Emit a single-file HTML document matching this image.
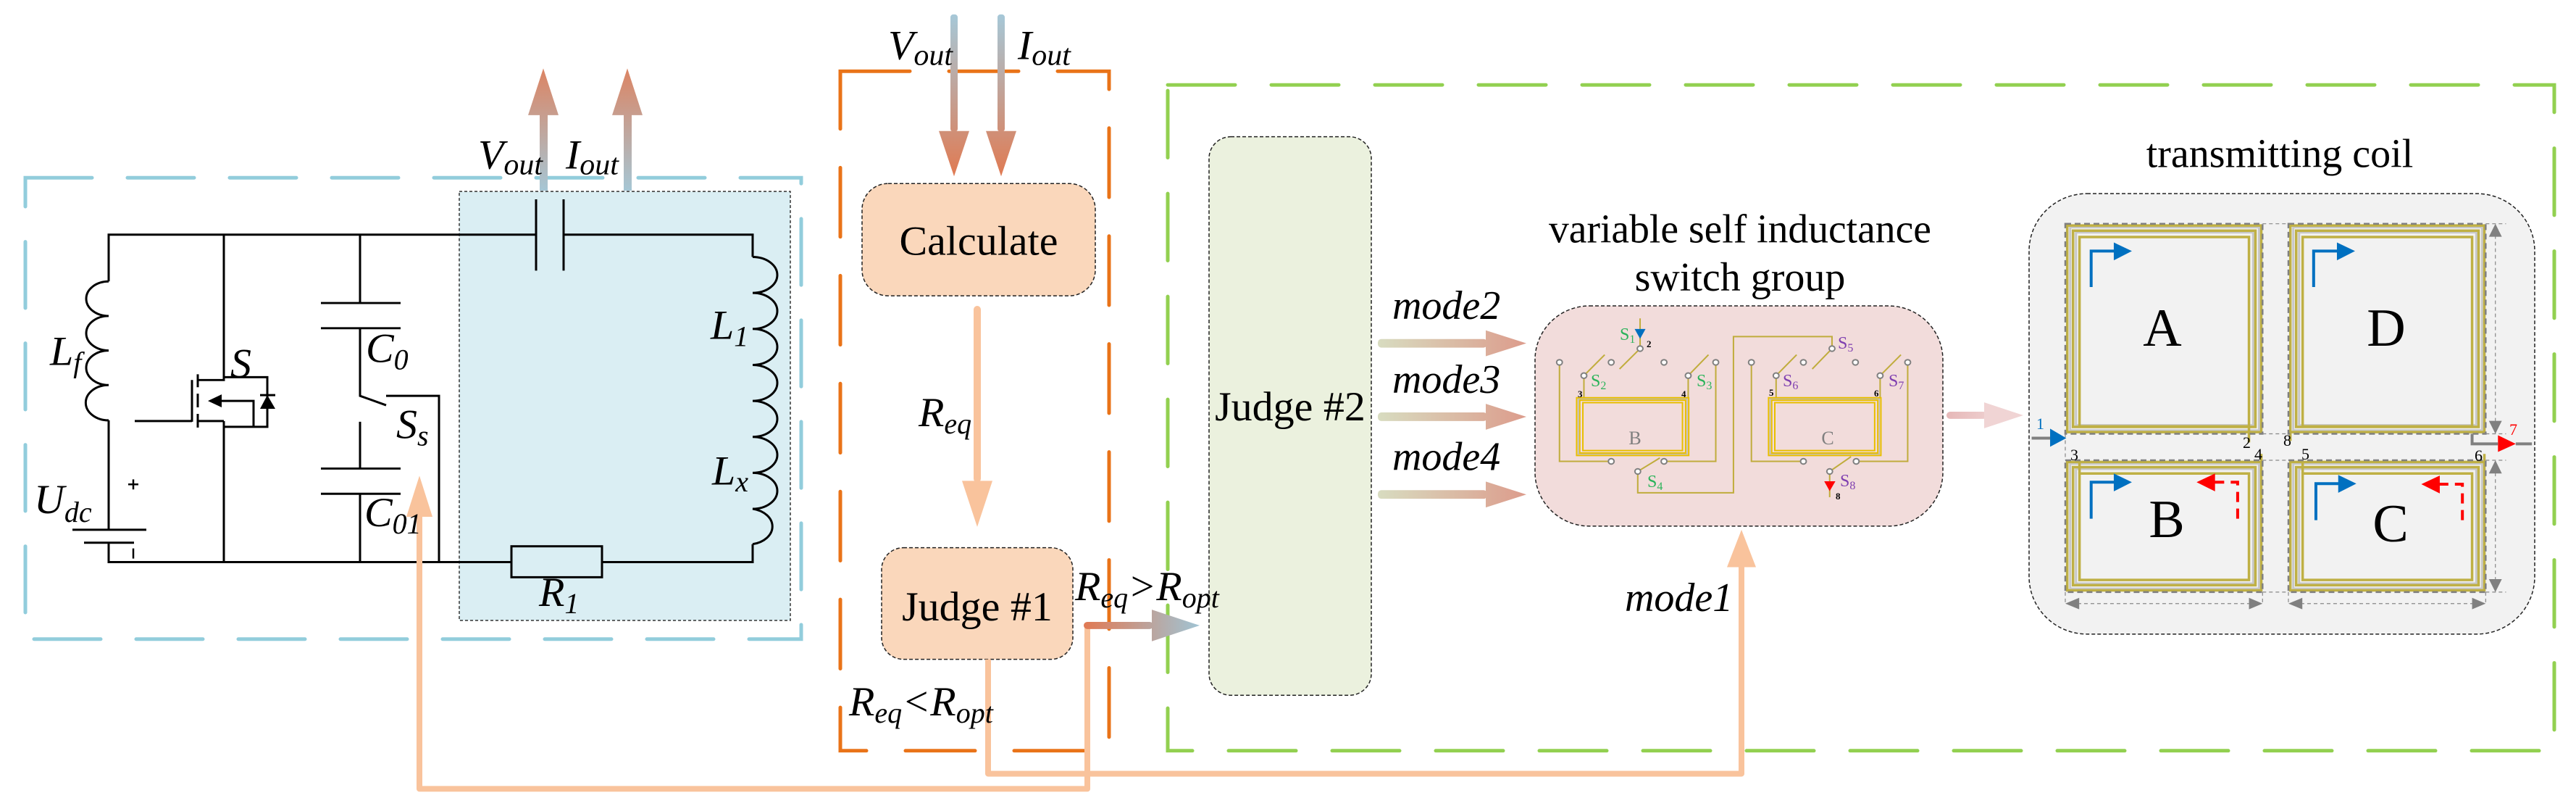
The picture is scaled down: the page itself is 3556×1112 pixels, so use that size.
<!DOCTYPE html>
<html><head><meta charset="utf-8"><style>
html,body{margin:0;padding:0;background:#fff;}
svg{display:block;font-family:"Liberation Serif","Times New Roman",Times,"DejaVu Serif",serif;}
svg text{font-family:"Liberation Serif","Times New Roman",Times,"DejaVu Serif",serif;}
.it{font-style:italic;}
</style></head><body>
<svg width="3556" height="1112" viewBox="0 0 3556 1112" xmlns="http://www.w3.org/2000/svg">
<defs>
<linearGradient id="gUp" x1="0" y1="264" x2="0" y2="95" gradientUnits="userSpaceOnUse"><stop offset="0" stop-color="#a6c6d4"/><stop offset="1" stop-color="#dc8463"/></linearGradient>
<linearGradient id="gDn" x1="0" y1="20" x2="0" y2="245" gradientUnits="userSpaceOnUse"><stop offset="0" stop-color="#a6c8d8"/><stop offset="1" stop-color="#e07a52"/></linearGradient>
<linearGradient id="gJ1" x1="1498" y1="0" x2="1656" y2="0" gradientUnits="userSpaceOnUse"><stop offset="0" stop-color="#e07a55"/><stop offset="1" stop-color="#a0c4d4"/></linearGradient>
<linearGradient id="gM" x1="1902" y1="0" x2="2107" y2="0" gradientUnits="userSpaceOnUse"><stop offset="0" stop-color="#d8dcc0"/><stop offset="1" stop-color="#dc9c8c"/></linearGradient>
<linearGradient id="gC" x1="2687" y1="0" x2="2793" y2="0" gradientUnits="userSpaceOnUse"><stop offset="0" stop-color="#e6b8b8"/><stop offset="1" stop-color="#f4e0e0"/></linearGradient>
</defs>

<g transform="scale(1,0.993)">
<rect x="35" y="247" width="1071" height="641" fill="none" stroke="#92cddc" stroke-width="5" stroke-dasharray="92 49" stroke-linecap="round"/>
<rect x="634" y="266" width="457" height="596" fill="#daeef3" stroke="#333" stroke-width="1.5" stroke-dasharray="4 3"/>

<g fill="none" stroke="#000" stroke-width="3">
<path d="M150,584 V736 M150,754 V781 H1039 V756"/>
<path d="M150,391 V326 H740 M778,326 H1039 V357"/>
<path d="M150,391 A31,24 0 0 0 150,439 A31,24 0 0 0 150,487 A31,24 0 0 0 150,535 A31,24 0 0 0 150,584"/>
<path d="M1039,357 A34,25 0 0 1 1039,407 A34,25 0 0 1 1039,457 A34,25 0 0 1 1039,507 A34,25 0 0 1 1039,557 A34,25 0 0 1 1039,607 A34,25 0 0 1 1039,657 A34,25 0 0 1 1039,707 A34,25 0 0 1 1039,756"/>
<path d="M740,277 V376 M778,277 V376"/>
<path d="M100,736 H202 M116,754 H185"/>
<path d="M177,673 H191 M184,666 V680 M184,762 V776" stroke-width="2.5"/>
<path d="M309,326 V528 H273 M309,524 H369 V593 H309 M309,585 H273 M309,585 V781"/>
<path d="M265,528 V586 M186,585 H265"/>
<path d="M273,520 V538 M273,547 V566 M273,575 V594"/>
<path d="M300,557 H350 V593"/>
<path d="M359,549 H380"/>
<path d="M497,326 V421 M443,421 H553 M443,456 H553 M497,456 V550 L533,563"/>
<path d="M533,550 H606 V781"/>
<path d="M497,586 V651 M443,651 H553 M443,686 H553 M497,686 V781"/>
</g>
<polygon points="287,557 306,548 306,566" fill="#000"/>
<polygon points="369,549 359,568 380,568" fill="#000"/>
<rect x="706" y="759" width="125" height="43" fill="#daeef3" stroke="#000" stroke-width="3"/>

<rect x="745" y="159" width="11" height="106" fill="url(#gUp)"/>
<polygon points="729,160 771,160 750,95" fill="url(#gUp)"/>
<rect x="861" y="159" width="11" height="106" fill="url(#gUp)"/>
<polygon points="845,160 887,160 866,95" fill="url(#gUp)"/>

<rect x="1160" y="99" width="371" height="944" fill="none" stroke="#e97318" stroke-width="5" stroke-dasharray="96 54" stroke-linecap="round"/>
<rect x="1612" y="118" width="1914" height="925" fill="none" stroke="#92d050" stroke-width="5" stroke-dasharray="93 50" stroke-linecap="round"/>

<rect x="1312" y="20" width="10" height="163" fill="url(#gDn)" rx="4"/>
<polygon points="1296,182 1338,182 1317,245" fill="url(#gDn)"/>
<rect x="1377" y="20" width="10" height="163" fill="url(#gDn)" rx="4"/>
<polygon points="1361,182 1403,182 1382,245" fill="url(#gDn)"/>

<rect x="1190" y="255" width="322" height="156" rx="36" fill="#fad7bb" stroke="#222" stroke-width="1.5" stroke-dasharray="5 3"/>
<text x="1351" y="354" font-size="58" text-anchor="middle">Calculate</text>
<rect x="1344" y="425" width="10" height="245" fill="#f9c39c" rx="5"/>
<polygon points="1328,668 1370,668 1349,732" fill="#f9c39c"/>
<rect x="1217" y="761" width="264" height="155" rx="30" fill="#fad7bb" stroke="#222" stroke-width="1.5" stroke-dasharray="5 3"/>
<text x="1349" y="862" font-size="58" text-anchor="middle">Judge #1</text>

<g fill="none" stroke="#f9c39c" stroke-width="8" stroke-linejoin="round">
<path d="M1501,869 V1096 H579 V712"/>
<path d="M1364,916 V1075 H2404 V782"/>
</g>
<polygon points="561,718 597,718 579,661" fill="#f9c39c"/>
<polygon points="2384,788 2424,788 2404,736" fill="#f9c39c"/>

<rect x="1496" y="864" width="96" height="10" rx="5" fill="url(#gJ1)"/>
<polygon points="1590,847 1590,891 1656,869" fill="url(#gJ1)"/>

<rect x="1669" y="190" width="224" height="776" rx="30" fill="#ebf1de" stroke="#222" stroke-width="1.5" stroke-dasharray="5 3"/>
<text x="1781" y="584" font-size="58" text-anchor="middle">Judge #2</text>

<g fill="url(#gM)">
<rect x="1902" y="471" width="151" height="12" rx="5"/><polygon points="2051,459 2051,495 2107,477"/>
<rect x="1902" y="573" width="151" height="12" rx="5"/><polygon points="2051,561 2051,597 2107,579"/>
<rect x="1902" y="681" width="151" height="12" rx="5"/><polygon points="2051,669 2051,705 2107,687"/>
</g>

<rect x="2119" y="425" width="563" height="306" rx="75" fill="#f2dcdb" stroke="#222" stroke-width="1.5" stroke-dasharray="5 3"/>
<text x="2402" y="337" font-size="56" text-anchor="middle" textLength="528" lengthAdjust="spacingAndGlyphs">variable self inductance</text>
<text x="2402" y="404" font-size="56" text-anchor="middle">switch group</text>

<rect x="2687" y="572" width="56" height="10" rx="5" fill="url(#gC)"/>
<polygon points="2739,559 2739,595 2793,577" fill="#f0d4d4"/>

<rect x="2801" y="269" width="698" height="612" rx="80" fill="#f2f2f2" stroke="#222" stroke-width="1.5" stroke-dasharray="5 3"/>
<text x="3147" y="232" font-size="56" text-anchor="middle">transmitting coil</text>

<g class="it" font-size="58" font-style="italic">
<text x="69" y="507">L<tspan font-size="40" dy="10">f</tspan></text>
<text x="318" y="524">S</text>
<text x="505" y="503">C<tspan font-size="40" dy="10">0</tspan></text>
<text x="547" y="609">S<tspan font-size="40" dy="10">s</tspan></text>
<text x="503" y="731">C<tspan font-size="40" dy="10">01</tspan></text>
<text x="47" y="713">U<tspan font-size="40" dy="12">dc</tspan></text>
<text x="981" y="471">L<tspan font-size="40" dy="10">1</tspan></text>
<text x="983" y="673">L<tspan font-size="40" dy="10">x</tspan></text>
<text x="744" y="842">R<tspan font-size="40" dy="10">1</tspan></text>
<text x="660" y="234">V<tspan font-size="42" dy="8">out</tspan></text>
<text x="781" y="234">I<tspan font-size="42" dy="8">out</tspan></text>
<text x="1226" y="82">V<tspan font-size="42" dy="8">out</tspan></text>
<text x="1405" y="82">I<tspan font-size="42" dy="8">out</tspan></text>
<text x="1268" y="592">R<tspan font-size="40" dy="10">eq</tspan></text>
<text x="1484" y="834">R<tspan font-size="40" dy="10">eq</tspan><tspan dy="-10">&gt;R</tspan><tspan font-size="40" dy="10">opt</tspan></text>
<text x="1172" y="994">R<tspan font-size="40" dy="10">eq</tspan><tspan dy="-10">&lt;R</tspan><tspan font-size="40" dy="10">opt</tspan></text>
<text x="1922" y="443" font-size="56">mode2</text>
<text x="1922" y="546" font-size="56">mode3</text>
<text x="1922" y="653" font-size="56">mode4</text>
<text x="2243" y="849" font-size="56">mode1</text>
</g>
</g>

<g transform="translate(2119,425) scale(0.359,0.339)" fill="none">
<g stroke="#c0ac3c" stroke-width="2">
<path vector-effect="non-scaling-stroke" d="M404,42 V165 M404,165 L325,248 M188,275 L268,190 M589,275 L667,190 M1142,165 L1066,248 M927,275 L1006,190 M1327,275 L1407,190 M395,665 L480,610 M1133,665 L1215,605"/>
<path vector-effect="non-scaling-stroke" d="M94,221 V624 H293 M496,624 H695 V221 M188,275 V365 M589,275 V365 M395,665 V752 H763 V116 H1142 V165 M832,221 V624 H1032 M1235,624 H1433 V221 M927,275 V365 M1327,275 V365 M1133,665 V770"/>
</g>
<g stroke="#bbb" stroke-width="1.5">
<rect vector-effect="non-scaling-stroke" x="166" y="370" width="419" height="224"/>
<rect vector-effect="non-scaling-stroke" x="904" y="370" width="420" height="224"/>
</g>
<g stroke="#e8be00" stroke-width="2">
<rect vector-effect="non-scaling-stroke" x="160" y="365" width="431" height="235"/>
<rect vector-effect="non-scaling-stroke" x="172" y="375" width="407" height="215"/>
<rect vector-effect="non-scaling-stroke" x="184" y="385" width="383" height="195"/>
<rect vector-effect="non-scaling-stroke" x="898" y="365" width="432" height="235"/>
<rect vector-effect="non-scaling-stroke" x="910" y="375" width="408" height="215"/>
<rect vector-effect="non-scaling-stroke" x="922" y="385" width="384" height="195"/>
</g>
<g fill="#fff" stroke="#808080" stroke-width="2">
<circle vector-effect="non-scaling-stroke" cx="404" cy="165" r="11"/><circle vector-effect="non-scaling-stroke" cx="94" cy="221" r="11"/><circle vector-effect="non-scaling-stroke" cx="293" cy="221" r="11"/><circle vector-effect="non-scaling-stroke" cx="496" cy="221" r="11"/><circle vector-effect="non-scaling-stroke" cx="695" cy="221" r="11"/><circle vector-effect="non-scaling-stroke" cx="188" cy="275" r="11"/><circle vector-effect="non-scaling-stroke" cx="589" cy="275" r="11"/><circle vector-effect="non-scaling-stroke" cx="1142" cy="165" r="11"/><circle vector-effect="non-scaling-stroke" cx="832" cy="221" r="11"/><circle vector-effect="non-scaling-stroke" cx="1032" cy="221" r="11"/><circle vector-effect="non-scaling-stroke" cx="1232" cy="221" r="11"/><circle vector-effect="non-scaling-stroke" cx="1433" cy="221" r="11"/><circle vector-effect="non-scaling-stroke" cx="927" cy="275" r="11"/><circle vector-effect="non-scaling-stroke" cx="1327" cy="275" r="11"/><circle vector-effect="non-scaling-stroke" cx="293" cy="624" r="11"/><circle vector-effect="non-scaling-stroke" cx="496" cy="624" r="11"/><circle vector-effect="non-scaling-stroke" cx="395" cy="665" r="11"/><circle vector-effect="non-scaling-stroke" cx="1032" cy="624" r="11"/><circle vector-effect="non-scaling-stroke" cx="1235" cy="624" r="11"/><circle vector-effect="non-scaling-stroke" cx="1133" cy="665" r="11"/>
</g>
<polygon points="383,85 425,85 404,125" fill="#0070c0"/>
<polygon points="1112,705 1155,705 1133,745" fill="#ff0000"/>
</g>
<g font-size="24">
<g fill="#2bb35a"><text x="2236" y="469">S<tspan font-size="16" dy="4">1</tspan></text><text x="2196" y="533">S<tspan font-size="16" dy="4">2</tspan></text><text x="2342" y="533">S<tspan font-size="16" dy="4">3</tspan></text><text x="2274" y="672">S<tspan font-size="16" dy="4">4</tspan></text></g>
<g fill="#7f3fb0"><text x="2537" y="481">S<tspan font-size="16" dy="4">5</tspan></text><text x="2461" y="533">S<tspan font-size="16" dy="4">6</tspan></text><text x="2607" y="533">S<tspan font-size="16" dy="4">7</tspan></text><text x="2540" y="671">S<tspan font-size="16" dy="4">8</tspan></text></g>
<g font-weight="bold" font-size="13" fill="#000"><text x="2273" y="479">2</text><text x="2178" y="548">3</text><text x="2321" y="548">4</text><text x="2442" y="546">5</text><text x="2587" y="547">6</text><text x="2534" y="689">8</text></g>
<text x="2257" y="613" font-size="26" fill="#808080" text-anchor="middle">B</text>
<text x="2523" y="613" font-size="26" fill="#808080" text-anchor="middle">C</text>
</g>

<g transform="translate(2801,269) scale(0.4464,0.397)" fill="none">
<g stroke="#c8c8c8" stroke-width="3">
<rect vector-effect="non-scaling-stroke" x="127" y="112" width="584" height="706"/><rect vector-effect="non-scaling-stroke" x="145" y="130" width="548" height="670"/>
<rect vector-effect="non-scaling-stroke" x="817" y="112" width="584" height="706"/><rect vector-effect="non-scaling-stroke" x="835" y="130" width="548" height="670"/>
<rect vector-effect="non-scaling-stroke" x="127" y="934" width="584" height="434"/><rect vector-effect="non-scaling-stroke" x="145" y="952" width="548" height="398"/>
<rect vector-effect="non-scaling-stroke" x="817" y="934" width="584" height="434"/><rect vector-effect="non-scaling-stroke" x="835" y="952" width="548" height="398"/>
</g>
<g stroke="#bfb044" stroke-width="3.5">
<rect vector-effect="non-scaling-stroke" x="118" y="106" width="600" height="718"/><rect vector-effect="non-scaling-stroke" x="136" y="124" width="564" height="682"/><rect vector-effect="non-scaling-stroke" x="156" y="146" width="524" height="658"/>
<rect vector-effect="non-scaling-stroke" x="808" y="106" width="600" height="718"/><rect vector-effect="non-scaling-stroke" x="826" y="124" width="564" height="682"/><rect vector-effect="non-scaling-stroke" x="846" y="146" width="524" height="658"/>
<rect vector-effect="non-scaling-stroke" x="118" y="928" width="600" height="446"/><rect vector-effect="non-scaling-stroke" x="136" y="946" width="564" height="410"/><rect vector-effect="non-scaling-stroke" x="156" y="968" width="524" height="370"/>
<rect vector-effect="non-scaling-stroke" x="808" y="928" width="600" height="446"/><rect vector-effect="non-scaling-stroke" x="826" y="946" width="564" height="410"/><rect vector-effect="non-scaling-stroke" x="846" y="968" width="524" height="370"/>
<path vector-effect="non-scaling-stroke" d="M680,804 V860 M156,968 V925 M846,968 V925 M718,928 V900 M1408,928 V900 M808,824 V855"/>
</g>
<g stroke="#808080" stroke-width="2.5" stroke-dasharray="8 5">
<rect vector-effect="non-scaling-stroke" x="112" y="100" width="610" height="730"/>
<rect vector-effect="non-scaling-stroke" x="802" y="100" width="610" height="730"/>
<rect vector-effect="non-scaling-stroke" x="112" y="922" width="610" height="458"/>
<rect vector-effect="non-scaling-stroke" x="802" y="922" width="610" height="458"/>
</g>
<g stroke="#888" stroke-width="1.2" stroke-dasharray="5 4">
<path vector-effect="non-scaling-stroke" d="M722,100 H802 M722,830 H802 M722,922 H802 M722,1380 H802 M1412,100 H1475 M1412,830 H1475 M1412,922 H1475 M1412,1380 H1475 M112,830 V922 M1442,140 V790 M1442,965 V1340 M150,1420 H690 M840,1420 H1380 M112,1380 V1425 M722,1380 V1425 M802,1380 V1425 M1412,1380 V1425"/>
</g>
<g fill="#808080">
<polygon points="1422,145 1462,145 1442,100"/><polygon points="1422,785 1462,785 1442,830"/>
<polygon points="1422,968 1462,968 1442,922"/><polygon points="1422,1335 1462,1335 1442,1380"/>
<polygon points="155,1400 155,1440 112,1420"/><polygon points="680,1400 680,1440 722,1420"/>
<polygon points="845,1400 845,1440 802,1420"/><polygon points="1370,1400 1370,1440 1412,1420"/>
</g>
<g stroke="#0070c0" stroke-width="4">
<path vector-effect="non-scaling-stroke" d="M192,320 V195 H265 M880,320 V195 H955 M192,1125 V998 H265 M887,1130 V1003 H958"/>
</g>
<g fill="#0070c0">
<polygon points="262,165 262,227 318,195"/><polygon points="952,165 952,227 1008,195"/>
<polygon points="262,968 262,1030 318,998"/><polygon points="956,973 956,1035 1012,1003"/>
<polygon points="65,812 65,875 115,845"/>
</g>
<g stroke="#ff0000" stroke-width="4" stroke-dasharray="14 9">
<path vector-effect="non-scaling-stroke" d="M645,1125 V998 H572 M1340,1130 V1005 H1268"/>
</g>
<g fill="#ff0000">
<polygon points="575,968 575,1030 518,998"/><polygon points="1270,975 1270,1037 1213,1005"/>
<polygon points="1450,835 1450,893 1505,865"/>
</g>
<g stroke="#808080" stroke-width="4">
<path vector-effect="non-scaling-stroke" d="M8,845 H65 M1370,830 V865 H1450 M1505,865 H1555"/>
</g>
</g>
<g font-size="74" text-anchor="middle">
<text x="2985" y="477">A</text><text x="3294" y="477">D</text>
<text x="2991" y="741">B</text><text x="3300" y="747">C</text>
</g>
<g font-size="22">
<text x="2811" y="592" fill="#0070c0">1</text>
<text x="3464" y="600" fill="#ff0000">7</text>
<text x="3096" y="618">2</text><text x="3152" y="615">8</text>
<text x="2858" y="635">3</text><text x="3112" y="634">4</text>
<text x="3177" y="634">5</text><text x="3416" y="636">6</text>
</g>
</svg>
</body></html>
